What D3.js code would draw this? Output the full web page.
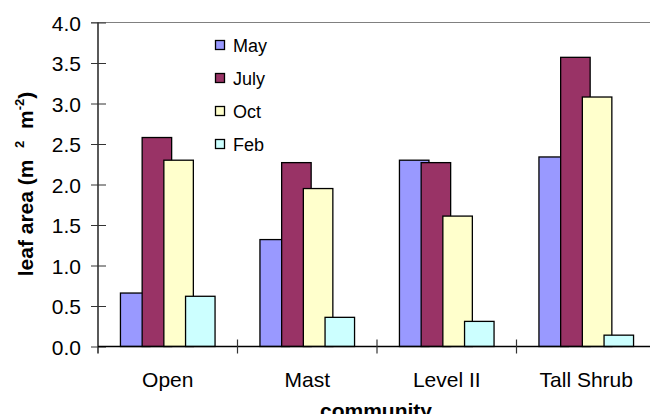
<!DOCTYPE html>
<html lang="en">
  <head>
    <meta charset="utf-8">
    <title>Leaf area by community</title>
    <script src="https://d3js.org/d3.v7.min.js"></script>
    <style>
      body { margin: 0; background: white; }
      text { font-family: "Liberation Sans", Arial, sans-serif; }
    </style>
  </head>
  <body>
    <div id="chart"></div>
    <script type="text/javascript">

      // data
      var communities = ["Open", "Mast", "Level II", "Tall Shrub"];
      var months = ["May", "July", "Oct", "Feb"];
      var mayVals  = [0.66, 1.32, 2.30, 2.34];
      var julyVals = [2.58, 2.27, 2.27, 3.57];
      var octVals  = [2.30, 1.95, 1.61, 3.08];
      var febVals  = [0.62, 0.36, 0.31, 0.14];
      var yTicks = [0, 0.5, 1, 1.5, 2, 2.5, 3, 3.5, 4];

      var colors = ["#9999FF", "#993366", "#FFFFCC", "#CCFFFF"];
      var series = [mayVals, julyVals, octVals, febVals];

      var svgWidth = 650, svgHeight = 414;
      var plot = {left: 98, right: 656, top: 22.5, bottom: 346.5};

      var svg = d3.select("#chart").append("svg")
        .attr("width", svgWidth)
        .attr("height", svgHeight);

      var xScale = d3.scaleBand()
        .domain(communities)
        .range([plot.left, plot.right])
        .padding(0);

      var yScale = d3.scaleLinear()
        .domain([0, 4])
        .range([plot.bottom, plot.top]);

      var barWidth = 29.5, barStep = 21.7;
      var groupWidth = 3 * barStep + barWidth;
      var sScale = d3.scalePoint()
        .domain(months)
        .range([0, 3 * barStep]);

      // top border of plot area
      svg.append("line")
        .attr("x1", plot.left - 7).attr("x2", svgWidth)
        .attr("y1", yScale(4)).attr("y2", yScale(4))
        .attr("stroke", "#808080")
        .attr("stroke-width", 1.2);

      // bars, one series after another so later ones sit on top
      series.forEach(function(vals, si) {
        svg.append("g")
          .selectAll("rect")
          .data(vals)
          .enter()
          .append("rect")
          .attr("x", (d, i) => xScale(communities[i]) + (xScale.bandwidth() - groupWidth) / 2 + sScale(months[si]))
          .attr("y", d => yScale(d))
          .attr("width", barWidth)
          .attr("height", d => yScale(0) - yScale(d))
          .attr("fill", colors[si])
          .attr("stroke", "black")
          .attr("stroke-width", 1.3);
      });

      // y axis
      var yAxis = d3.axisLeft(yScale)
        .tickValues(yTicks)
        .tickFormat(d3.format(".1f"))
        .tickSizeInner(7)
        .tickSizeOuter(0);

      var yg = svg.append("g")
        .attr("transform", `translate(${plot.left},0)`)
        .call(yAxis);
      yg.select(".domain").attr("stroke", "black").attr("stroke-width", 1.3)
        .attr("d", `M0,${yScale(4)}V${yScale(0) + 7}`);
      yg.selectAll(".tick line").attr("stroke", "#333").attr("x1", -7).attr("x2", 8);
      yg.selectAll(".tick text")
        .attr("x", -17)
        .attr("dy", "0.36em")
        .attr("font-size", "21px")
        .attr("font-family", "Liberation Sans, Arial, sans-serif")
        .attr("fill", "black");

      // x axis line
      svg.append("line")
        .attr("x1", plot.left).attr("x2", svgWidth)
        .attr("y1", yScale(0)).attr("y2", yScale(0))
        .attr("stroke", "black")
        .attr("stroke-width", 1.3);

      // category boundary ticks
      svg.append("g")
        .selectAll("line")
        .data(communities.slice(1))
        .enter()
        .append("line")
        .attr("x1", d => xScale(d))
        .attr("x2", d => xScale(d))
        .attr("y1", yScale(0) - 7)
        .attr("y2", yScale(0) + 7)
        .attr("stroke", "#333")
        .attr("stroke-width", 1.2);

      // category labels
      svg.append("g")
        .selectAll("text")
        .data(communities)
        .enter()
        .append("text")
        .attr("x", d => xScale(d) + xScale.bandwidth() / 2)
        .attr("y", 386.5)
        .attr("text-anchor", "middle")
        .attr("font-size", "21px")
        .text(d => d);

      // x title (cut by the bottom edge, as in the original)
      svg.append("text")
        .attr("x", 376)
        .attr("y", 418)
        .attr("text-anchor", "middle")
        .attr("font-size", "21px")
        .attr("font-weight", "bold")
        .text("community");

      // y title
      var yt = svg.append("text")
        .attr("transform", "translate(33,184) rotate(-90)")
        .attr("text-anchor", "middle")
        .attr("font-size", "21px")
        .attr("font-weight", "bold")
        .style("white-space", "pre");
      yt.append("tspan").text("leaf area (m  ");
      yt.append("tspan").attr("font-size", "13px").attr("dy", -9).text("2");
      yt.append("tspan").attr("dy", 9).text("  m");
      yt.append("tspan").attr("font-size", "13px").attr("dy", -9).text("-2");
      yt.append("tspan").attr("dy", 9).text(")");

      // legend
      var legend = svg.append("g")
        .selectAll("g")
        .data(months)
        .enter()
        .append("g")
        .attr("transform", (d, i) => `translate(215.5,${45 + i * 33})`);

      legend.append("rect")
        .attr("x", 0)
        .attr("y", -4.5)
        .attr("width", 9)
        .attr("height", 9)
        .attr("fill", (d, i) => colors[i])
        .attr("stroke", "black")
        .attr("stroke-width", 1.3);

      legend.append("text")
        .attr("x", 17.5)
        .attr("y", 6.5)
        .attr("font-size", "18px")
        .text(d => d);

    </script>
  </body>
</html>
